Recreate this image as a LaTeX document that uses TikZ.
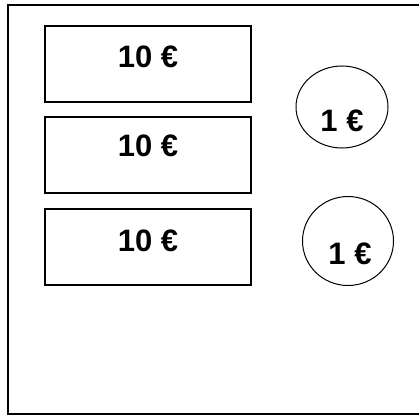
\documentclass[tikz,border=0pt]{standalone}
\usepackage{fontspec}
\setmainfont{Liberation Sans}
\usetikzlibrary{shapes.geometric}
\begin{document}
\begin{tikzpicture}[x=1pt,y=-1pt,
  note/.style={draw,line width=1.6pt,minimum width=206pt,minimum height=76pt,inner sep=0pt},
  coin/.style={draw,ellipse,line width=1pt,inner sep=0pt},
  lbl/.style={font=\bfseries\fontsize{31}{34}\selectfont,inner sep=0pt,text depth=0pt,anchor=center}]
\clip (0,0) rectangle (419,414);
\node[draw,line width=1.6pt,minimum width=414pt,minimum height=409pt,inner sep=0pt,anchor=north west] (frame) at (7,4) {};
\node[note] (b1) at (148,64) {};
\node[note] (b2) at (148,155) {};
\node[note] (b3) at (148,247) {};
\node[lbl] (t1) at (148,57) {10 €};
\node[lbl] (t2) at (148,146) {10 €};
\node[lbl] (t3) at (148,241) {10 €};
\node[coin,minimum width=92pt,minimum height=82pt] (c1) at (342,107) {};
\node[coin,minimum width=91pt,minimum height=89pt] (c2) at (348,241) {};
\node[lbl] (u1) at (342,121) {1 €};
\node[lbl] (u2) at (350,254) {1 €};
\end{tikzpicture}
\end{document}
